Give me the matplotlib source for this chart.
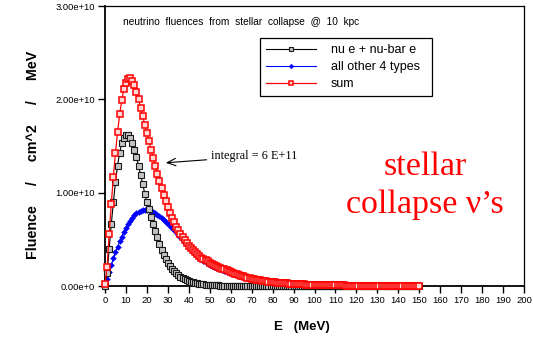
import numpy as np
import matplotlib
matplotlib.use("Agg")
import matplotlib.pyplot as plt

# Neutrino energy grid (MeV)
energy = np.arange(0, 151, 1)

# Fluence values in units of 1e9 per cm^2 per MeV
nue_plus_nuebar = [
    0.0, 1.4, 4.0, 6.6, 9.0, 11.1, 12.9, 14.3, 15.3, 15.9,
    16.2, 16.2, 15.9, 15.3, 14.6, 13.8, 12.9, 11.9, 10.9, 9.9,
    9.0, 8.2, 7.4, 6.6, 5.9, 5.2, 4.5, 3.9, 3.35, 2.9,
    2.5, 2.15, 1.85, 1.58, 1.35, 1.15, 0.98, 0.84, 0.72, 0.61,
    0.52, 0.45, 0.39, 0.34, 0.29, 0.25, 0.22, 0.19, 0.16, 0.14,
    0.12, 0.1, 0.085, 0.072, 0.061, 0.052, 0.044, 0.037, 0.031, 0.026,
    0.022, 0.018, 0.015, 0.013, 0.011, 0.009, 0.007, 0.006, 0.005, 0.004,
    0.003, 0.003, 0.002, 0.002, 0.002, 0.001, 0.001, 0.001, 0.001, 0.001,
    0.001,
] + [0.0] * 70

other_four = [
    0.0, 0.7, 1.45, 2.2, 2.95, 3.6, 4.2, 4.8, 5.3, 5.8,
    6.25, 6.65, 7.0, 7.3, 7.58, 7.8, 7.97, 8.08, 8.15, 8.18,
    8.17, 8.12, 8.04, 7.93, 7.8, 7.65, 7.48, 7.3, 7.1, 6.9,
    6.68, 6.46, 6.23, 5.99, 5.74, 5.48, 5.2, 4.92, 4.64, 4.37,
    4.1, 3.85, 3.62, 3.4, 3.2, 3.01, 2.84, 2.68, 2.54, 2.41,
    2.29, 2.18, 2.08, 1.98, 1.89, 1.8, 1.71, 1.63, 1.55, 1.47,
    1.4, 1.33, 1.26, 1.19, 1.12, 1.06, 1.0, 0.94, 0.88, 0.83,
    0.78, 0.73, 0.68, 0.64, 0.6, 0.56, 0.53, 0.5, 0.47, 0.44,
    0.41, 0.38, 0.36, 0.34, 0.32, 0.3, 0.28, 0.27, 0.25, 0.24,
    0.22, 0.21, 0.2, 0.19, 0.18, 0.17, 0.16, 0.15, 0.14, 0.13,
    0.125, 0.12, 0.113, 0.106, 0.1, 0.094, 0.088, 0.083, 0.078, 0.073,
    0.069, 0.065, 0.061, 0.057, 0.054, 0.05, 0.047, 0.044, 0.042, 0.039,
    0.037, 0.035, 0.033, 0.031, 0.029, 0.027, 0.025, 0.024, 0.022, 0.021,
    0.02, 0.019, 0.017, 0.016, 0.015, 0.014, 0.014, 0.013, 0.012, 0.011,
    0.011, 0.01, 0.009, 0.009, 0.008, 0.008, 0.007, 0.007, 0.006, 0.006,
    0.006,
]

total = [
    0.2, 2.0, 5.6, 8.8, 11.7, 14.3, 16.5, 18.4, 19.9, 21.1,
    21.8, 22.2, 22.3, 22.0, 21.5, 20.8, 20.0, 19.1, 18.2, 17.3,
    16.4, 15.5, 14.6, 13.75, 12.9, 12.0, 11.2, 10.45, 9.75, 9.08,
    8.45, 7.87, 7.33, 6.83, 6.37, 5.95, 5.57, 5.22, 4.9, 4.6,
    4.33, 4.07, 3.82, 3.6, 3.4, 3.22, 3.05, 2.9, 2.76, 2.63,
    2.51, 2.39, 2.28, 2.17, 2.07, 1.97, 1.87, 1.77, 1.67, 1.58,
    1.49, 1.4, 1.32, 1.24, 1.16, 1.09, 1.02, 0.96, 0.9, 0.84,
    0.79, 0.74, 0.69, 0.65, 0.61, 0.57, 0.54, 0.51, 0.48, 0.45,
    0.42, 0.4, 0.37, 0.35, 0.33, 0.31, 0.29, 0.28, 0.26, 0.25,
    0.23, 0.22, 0.21, 0.19, 0.18, 0.17, 0.16, 0.15, 0.14, 0.135,
    0.127, 0.12, 0.113, 0.106, 0.1, 0.094, 0.088, 0.083, 0.078, 0.073,
    0.069, 0.065, 0.061, 0.057, 0.054, 0.05, 0.047, 0.044, 0.042, 0.039,
    0.037, 0.035, 0.033, 0.031, 0.029, 0.027, 0.025, 0.024, 0.022, 0.021,
    0.02, 0.019, 0.017, 0.016, 0.015, 0.014, 0.014, 0.013, 0.012, 0.011,
    0.011, 0.01, 0.009, 0.009, 0.008, 0.008, 0.007, 0.007, 0.006, 0.006,
    0.006,
]

series_labels = ["nu e + nu-bar e", "all other 4 types", "sum"]
x_ticks = list(range(0, 201, 10))
y_ticks = [0.0, 1.0e10, 2.0e10, 3.0e10]
y_tick_labels = ["0.00e+0", "1.00e+10", "2.00e+10", "3.00e+10"]
unit = 1.0e9

sans = ["Liberation Sans", "DejaVu Sans"]
serif = ["Liberation Serif", "DejaVu Serif"]
plt.rcParams["font.family"] = sans

fig = plt.figure(figsize=(5.33, 3.41), dpi=100)
ax = fig.add_axes([0.1970, 0.16129, 0.78612, 0.82111])

y_black = np.array(nue_plus_nuebar) * unit
y_blue = np.array(other_four) * unit
y_red = np.array(total) * unit

h_black, = ax.plot(energy, y_black, color="black", lw=0.8, marker="s",
                   ms=3.8, mfc="#c4c4c4", mec="#1a1a1a", mew=0.8,
                   zorder=3, clip_on=False, label=series_labels[0])
h_blue, = ax.plot(energy, y_blue, color="#0000ff", lw=0.8, marker="D",
                  ms=3.0, mfc="#0000ff", mec="#0000ff", mew=0.3,
                  zorder=2, clip_on=False, label=series_labels[1])
h_red, = ax.plot(energy, y_red, color="#ff0000", lw=0.9, marker="s",
                 ms=4.0, mfc="#ffd8d8", mec="#ff0000", mew=1.1,
                 zorder=4, clip_on=False, label=series_labels[2])

ax.set_xlim(0, 200)
ax.set_ylim(0, 3.0e10)
ax.set_xticks(x_ticks)
ax.set_xticklabels([str(t) for t in x_ticks], fontsize=6.8)
ax.set_yticks(y_ticks)
ax.set_yticklabels(y_tick_labels, fontsize=6.8)
ax.tick_params(axis="both", direction="out", length=5, width=1.0,
               color="black", pad=2)

for side in ["top", "right"]:
    ax.spines[side].set_linewidth(0.9)
for side in ["left", "bottom"]:
    ax.spines[side].set_linewidth(1.3)

fig.text(0.5666, 0.041, "E   (MeV)", fontsize=9.5, fontweight="bold",
         ha="center", va="center")
fig.text(0.062, 0.5455, "Fluence     /     cm^2     /     MeV",
         fontsize=10.3, fontweight="bold", rotation=90,
         ha="center", va="center")

ax.text(0.043, 0.943, "neutrino  fluences  from  stellar  collapse  @  10  kpc",
        transform=ax.transAxes, fontsize=7.3, ha="left", va="center")

leg = ax.legend(handles=[h_black, h_blue, h_red], loc="upper left",
                bbox_to_anchor=(0.37, 0.6786, 0.4105, 0.206),
                mode="expand", borderaxespad=0,
                fontsize=9, frameon=True, fancybox=False, framealpha=1,
                edgecolor="black", handlelength=4.0, handletextpad=1.2,
                labelspacing=0.42, borderpad=0.45, numpoints=1,
                markerscale=0.8)
leg.get_frame().set_linewidth(0.9)

ax.annotate("integral = 6 E+11", xy=(29.0, 1.32e10), xytext=(50.5, 1.39e10),
            fontsize=8.8, family=serif, ha="left", va="center",
            arrowprops=dict(arrowstyle="->,head_length=0.7,head_width=0.3",
                            color="black", lw=0.8, shrinkA=1, shrinkB=0))

ax.text(0.764, 0.396, "stellar", transform=ax.transAxes, color="#ff0000",
        fontsize=24.5, family=serif, ha="center", va="baseline")
ax.text(0.764, 0.261, "collapse \u03bd\u2019s", transform=ax.transAxes,
        color="#ff0000", fontsize=24.5, family=serif, ha="center",
        va="baseline")

fig.savefig("out.png", dpi=100)
